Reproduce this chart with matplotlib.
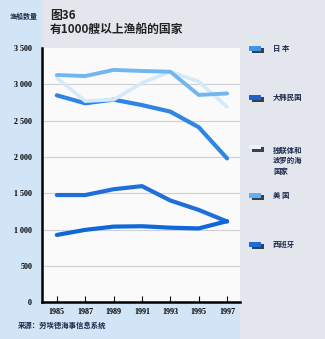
import numpy as np
import matplotlib.pyplot as plt
from matplotlib.patches import Rectangle

plt.rcParams['font.family'] = ['Noto Sans CJK SC', 'DejaVu Sans']

years = [1985, 1987, 1989, 1991, 1993, 1995, 1997]
xticks = [1985, 1987, 1989, 1991, 1993, 1995, 1997]
yticks = [0, 500, 1000, 1500, 2000, 2500, 3000, 3500]
ytick_labels = ['0', '500', '1 000', '1 500', '2 000', '2 500', '3 000', '3 500']

# values
riben = [2850, 2740, 2790, 2715, 2625, 2410, 1980]
hanguo = [1475, 1475, 1555, 1598, 1400, 1270, 1110]
dulianti = [3090, 2770, 2790, 3020, 3175, 3040, 2690]
meiguo = [3130, 3115, 3200, 3185, 3175, 2855, 2875]
xibanya = [925, 995, 1040, 1045, 1025, 1015, 1115]

series = [
    ('日 本', riben, '#2e86e4', 3.0),
    ('大韩民国', hanguo, '#1f6fd8', 3.0),
    ('独联体和\n波罗的海\n国家', dulianti, '#d4eafa', 2.6),
    ('美 国', meiguo, '#72b6ef', 2.8),
    ('西班牙', xibanya, '#0f67d8', 3.0),
]
legend_y = [0.855, 0.712, 0.565, 0.422, 0.278]
legend_patch = ['#3d94e8', '#1d63c9', '#e8f2fa', '#62aef0', '#1a6edb']

fig = plt.figure(figsize=(3.25, 3.39), dpi=100)
fig.patch.set_facecolor('#e4e6ed')

# left and bottom light blue panel
fig.add_artist(Rectangle((0, 0), 0.129, 1, transform=fig.transFigure,
                         facecolor='#d2e5f6', edgecolor='none', zorder=0))
fig.add_artist(Rectangle((0, 0), 0.738, 0.109, transform=fig.transFigure,
                         facecolor='#d2e5f6', edgecolor='none', zorder=0))

ax = fig.add_axes([0.129, 0.109, 0.609, 0.749])
ax.set_facecolor('#fafafa')

for name, vals, col, lw in series:
    ax.plot(years, vals, color=col, lw=lw, solid_capstyle='round',
            solid_joinstyle='round')

ax.set_xlim(1983.95, 1997.9)
ax.set_ylim(0, 3500)
ax.set_yticks(yticks)
ax.set_yticklabels(ytick_labels, fontsize=5.8, fontweight='bold',
                   family=['Liberation Serif', 'DejaVu Serif'])
ax.set_xticks(xticks)
ax.set_xticklabels([str(x) for x in xticks], fontsize=5.8, fontweight='bold',
                   family=['Liberation Serif', 'DejaVu Serif'])
ax.tick_params(axis='y', length=0, pad=7)
ax.tick_params(axis='x', direction='in', length=4, width=0.8, pad=4)
for g in yticks[1:-1]:
    ax.axhline(g, color='#cfd0d6', lw=0.8, zorder=0)

for s in ['top', 'right']:
    ax.spines[s].set_visible(False)
ax.spines['left'].set_linewidth(1.8)
ax.spines['bottom'].set_linewidth(1.8)

# titles
fig.text(0.153, 0.945, '图36', fontsize=8.5, fontweight='bold', color='#222222')
fig.text(0.153, 0.902, '有1000艘以上渔船的国家', fontsize=8.5, fontweight='bold',
         color='#222222')
fig.text(0.03, 0.943, '渔船数量', fontsize=5, fontweight='bold', color='#1a2a4a')
fig.text(0.055, 0.033, '来源：劳埃德海事信息系统', fontsize=5.3, fontweight='bold',
         color='#1a2a4a')

# legend
for (name, vals, col, lw), ly, pc in zip(series, legend_y, legend_patch):
    fig.add_artist(Rectangle((0.775, ly - 0.012), 0.038, 0.014,
                             transform=fig.transFigure, facecolor='#3a3f4a',
                             edgecolor='none'))
    fig.add_artist(Rectangle((0.766, ly - 0.006), 0.037, 0.014,
                             transform=fig.transFigure, facecolor=pc,
                             edgecolor='none'))
    fig.text(0.84, ly + 0.003 if '\n' in name else ly + 0.001, name,
             fontsize=5.3, fontweight='bold', color='#1a2a4a',
             va='top' if '\n' in name else 'center', linespacing=1.5)

fig.savefig('out.png', dpi=100, facecolor=fig.get_facecolor())
